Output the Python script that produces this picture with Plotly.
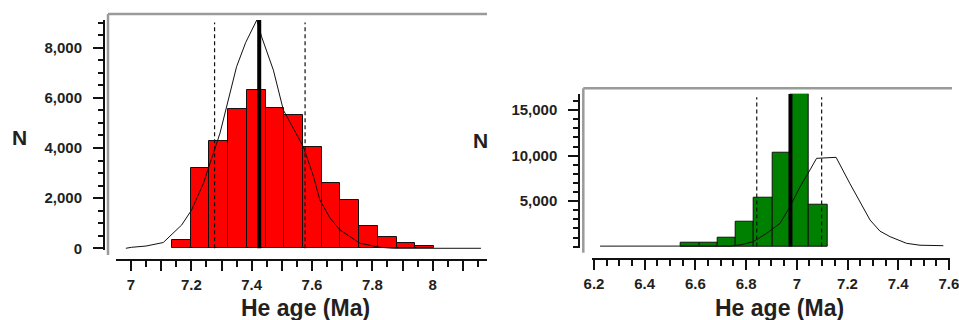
import plotly.graph_objects as go

W, H = 959, 320

# ---------------- data: left panel (red histogram) ----------------
red_bin_edges = [7.136, 7.198, 7.260, 7.322, 7.384, 7.446, 7.508, 7.570,
                 7.632, 7.694, 7.756, 7.818, 7.880, 7.942, 8.004]
red_counts = [330, 3190, 4290, 5570, 6310, 5580, 5300, 4050,
              2600, 1910, 900, 440, 220, 100]
red_curve_x = [6.983, 7.002, 7.05, 7.107, 7.168, 7.201, 7.24, 7.295, 7.35,
               7.38, 7.417, 7.433, 7.472, 7.505, 7.571, 7.604, 7.626, 7.66,
               7.693, 7.759, 7.825, 7.87, 8.16]
red_curve_y = [0, 40, 90, 230, 930, 1530, 2590, 4590, 7240,
               8200, 9100, 8430, 7100, 5510, 4050, 2900, 1925, 1200,
               730, 200, 40, 0, 0]
red_median = 7.425
red_median_top = 9100
red_dashed = [7.277, 7.577]
red_dashed_top = 9000
red_ytick_vals = [0, 2000, 4000, 6000, 8000]
red_ytick_text = ["0", "2,000", "4,000", "6,000", "8,000"]
red_xtick_vals = [7.0, 7.1, 7.2, 7.3, 7.4, 7.5, 7.6, 7.7, 7.8, 7.9, 8.0, 8.1]
red_xtick_text = ["7", "", "7.2", "", "7.4", "", "7.6", "", "7.8", "", "8", ""]

# ---------------- data: right panel (green histogram) ----------------
green_bin_edges = [6.543, 6.615, 6.687, 6.759, 6.831, 6.903, 6.975, 7.047, 7.120]
green_counts = [380, 400, 950, 2750, 5350, 10300, 16770, 4650]
green_curve_x = [6.224, 6.736, 6.78, 6.828, 6.881, 6.934, 6.973, 7.013, 7.052,
                 7.078, 7.155, 7.21, 7.289, 7.328, 7.368, 7.433, 7.486, 7.578]
green_curve_y = [50, 60, 200, 540, 1460, 2560, 4385, 6580, 8420,
                 9700, 9810, 6900, 2920, 1700, 1090, 360, 150, 100]
green_median = 6.975
green_median_top = 16770
green_dashed = [6.842, 7.098]
green_dashed_top = 16400
green_ytick_vals = [5000, 10000, 15000]
green_ytick_text = ["5,000", "10,000", "15,000"]
green_xtick_vals = [6.2, 6.4, 6.6, 6.8, 7.0, 7.2, 7.4, 7.6]
green_xtick_text = ["6.2", "6.4", "6.6", "6.8", "7", "7.2", "7.4", "7.6"]

# ---------------- layout helpers (pixel -> paper) ----------------
def px(x):
    return x / W

def py(y):
    return 1 - y / H

TEXT = "#231f20"
FONT = "Liberation Sans, Arial, Helvetica, sans-serif"
tickfont = dict(family=FONT, size=15, color=TEXT, weight="bold")


def centers(edges):
    return [(a + b) / 2 for a, b in zip(edges[:-1], edges[1:])]


def widths(edges):
    return [b - a for a, b in zip(edges[:-1], edges[1:])]


fig = go.Figure()

# left panel traces
fig.add_trace(go.Bar(x=centers(red_bin_edges), y=red_counts, width=widths(red_bin_edges),
                     marker=dict(color="#ff0000", line=dict(color="#111111", width=1)),
                     xaxis="x", yaxis="y", showlegend=False))
fig.add_trace(go.Scatter(x=red_curve_x, y=red_curve_y, mode="lines",
                         line=dict(color="#111111", width=1), xaxis="x", yaxis="y",
                         showlegend=False))
for d in red_dashed:
    fig.add_trace(go.Scatter(x=[d, d], y=[0, red_dashed_top], mode="lines",
                             line=dict(color="#111111", width=1.2, dash="4px,3px"),
                             xaxis="x", yaxis="y", showlegend=False))
fig.add_trace(go.Scatter(x=[red_median, red_median], y=[0, red_median_top], mode="lines",
                         line=dict(color="#000000", width=4), xaxis="x", yaxis="y",
                         showlegend=False))

# right panel traces
fig.add_trace(go.Bar(x=centers(green_bin_edges), y=green_counts, width=widths(green_bin_edges),
                     marker=dict(color="#008000", line=dict(color="#111111", width=1)),
                     xaxis="x2", yaxis="y2", showlegend=False))
fig.add_trace(go.Scatter(x=green_curve_x, y=green_curve_y, mode="lines",
                         line=dict(color="#111111", width=1), xaxis="x2", yaxis="y2",
                         showlegend=False))
for d in green_dashed:
    fig.add_trace(go.Scatter(x=[d, d], y=[0, green_dashed_top], mode="lines",
                             line=dict(color="#111111", width=1.2, dash="4px,3px"),
                             xaxis="x2", yaxis="y2", showlegend=False))
fig.add_trace(go.Scatter(x=[green_median, green_median], y=[0, green_median_top], mode="lines",
                         line=dict(color="#000000", width=4), xaxis="x2", yaxis="y2",
                         showlegend=False))

# axis geometry
L_X_PX0, L_X_PX1 = 116, 487          # x-axis line extent (px)
L_V7, L_PPU = 131, 301.7             # pixel of x=7, pixels per unit
L_Y0, L_YPPU = 248.3, 50.17 / 2000   # pixel of y=0, pixels per count
L_YR = [-70, 9100]

R_X_PX0, R_X_PX1 = 591.7, 950
R_V62, R_PPU = 594, 253.5
R_Y0, R_YPPU = 246.6, 45.5 / 5000
R_YR = [-100, 16800]

common_x = dict(showgrid=False, zeroline=False, showline=True, linecolor="#111111",
                linewidth=2, ticks="outside", ticklen=10, tickwidth=1.5,
                tickcolor="#111111", tickfont=tickfont, anchor="free",
                tickmode="array", ticklabeloverflow="allow", automargin=False)
common_y = dict(showgrid=False, zeroline=False, showline=True, linecolor="#111111",
                linewidth=2, ticks="outside", ticklen=10, tickwidth=1.5,
                tickcolor="#111111", tickfont=tickfont, anchor="free",
                tickmode="array", ticklabeloverflow="allow", automargin=False)

fig.update_layout(
    width=W, height=H, autosize=False,
    margin=dict(l=0, r=0, t=0, b=0, pad=0),
    paper_bgcolor="white", plot_bgcolor="rgba(0,0,0,0)",
    bargap=0,
    xaxis=dict(common_x,
               domain=[px(L_X_PX0), px(L_X_PX1)],
               range=[7 + (L_X_PX0 - L_V7) / L_PPU, 7 + (L_X_PX1 - L_V7) / L_PPU],
               position=py(260),
               tickvals=red_xtick_vals, ticktext=red_xtick_text,
               ticklabelstandoff=1,
               minor=dict(dtick=0.05, tick0=7, ticks="outside", ticklen=6,
                          tickwidth=1.5, tickcolor="#111111")),
    yaxis=dict(common_y,
               domain=[py(L_Y0 - L_YR[0] * L_YPPU), py(L_Y0 - L_YR[1] * L_YPPU)],
               range=L_YR,
               position=px(104),
               tickvals=red_ytick_vals, ticktext=red_ytick_text,
               ticklabelstandoff=8,
               minor=dict(dtick=500, tick0=0, ticks="outside", ticklen=5,
                          tickwidth=1.5, tickcolor="#111111")),
    xaxis2=dict(common_x,
                domain=[px(R_X_PX0), px(R_X_PX1)],
                range=[6.2 + (R_X_PX0 - R_V62) / R_PPU, 6.2 + (R_X_PX1 - R_V62) / R_PPU],
                position=py(259),
                tickvals=green_xtick_vals, ticktext=green_xtick_text,
                ticklabelstandoff=1,
                minor=dict(dtick=0.05, tick0=6.2, ticks="outside", ticklen=6,
                           tickwidth=1.5, tickcolor="#111111")),
    yaxis2=dict(common_y,
                domain=[py(R_Y0 - R_YR[0] * R_YPPU), py(R_Y0 - R_YR[1] * R_YPPU)],
                range=R_YR,
                position=px(579.3),
                tickvals=green_ytick_vals, ticktext=green_ytick_text,
                ticklabelstandoff=8,
                minor=dict(dtick=1000, tick0=0, ticks="outside", ticklen=5,
                           tickwidth=1.5, tickcolor="#111111")),
)

# grey frames
frame = dict(type="line", xref="paper", yref="paper", line=dict(color="#9a9a9a", width=2.5))
fig.add_shape(frame, x0=px(108), x1=px(108), y0=py(14), y1=py(255))
fig.add_shape(frame, x0=px(108), x1=px(487), y0=py(14), y1=py(14))
fig.add_shape(frame, x0=px(583.3), x1=px(583.3), y0=py(88.3), y1=py(252.7))
fig.add_shape(frame, x0=px(583.3), x1=px(952), y0=py(88.3), y1=py(88.3))

# axis titles
def label(text, x, y, size, anchor="middle"):
    fig.add_annotation(text=text, x=px(x), y=py(y), xref="paper", yref="paper",
                       showarrow=False, xanchor="center", yanchor=anchor,
                       font=dict(family=FONT, size=size, color=TEXT, weight="bold"))

label("N", 19, 137, 21)
label("N", 480.5, 140.5, 21)
label("He age (Ma)", 305, 292.5, 23, "top")
label("He age (Ma)", 779.5, 292.5, 23, "top")

fig.write_html("out.html",
               post_script="document.body.style.margin='0';document.body.style.padding='0';")
